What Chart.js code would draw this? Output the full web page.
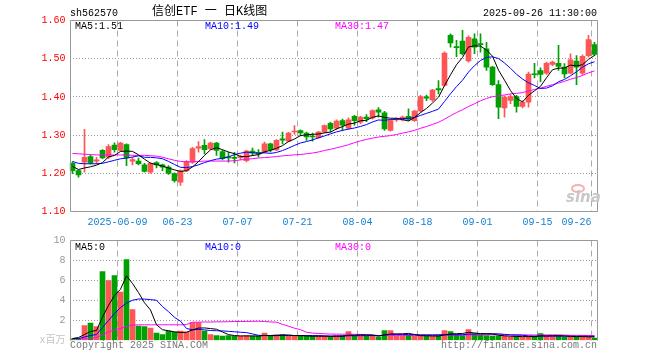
<!DOCTYPE html>
<html><head><meta charset="utf-8">
<script src="https://cdn.jsdelivr.net/npm/chart.js@4.4.1/dist/chart.umd.min.js"></script>
<style>
html,body{margin:0;padding:0;background:#fff;}
#wrap{position:relative;width:660px;height:360px;overflow:hidden;background:#fff;}
canvas{position:absolute;left:0;}
.t{position:absolute;font-family:"Liberation Mono","DejaVu Sans Mono",monospace;font-size:10px;line-height:10px;white-space:pre;color:#000;}
</style></head><body>
<div id="wrap">
<canvas id="price" width="660" height="230" style="top:0;width:660px;height:230px"></canvas>
<canvas id="vol" width="660" height="130" style="top:230px;width:660px;height:130px"></canvas>
<div style="position:absolute;left:571px;top:184px;width:10px;height:5px;border:2px solid rgba(235,110,110,0.55);border-radius:50%"></div>
<div class="t" style="left:566px;top:190px;font:italic bold 15px 'DejaVu Sans',sans-serif;line-height:15px;color:#c8c8c8">sina</div>
<div class="t" style="left:70px;top:9px">sh562570</div>
<div class="t" style="left:152px;top:6px;font-size:12px;line-height:12px;font-family:'Liberation Mono','Noto Sans CJK SC',monospace">信创ETF 一 日K线图</div>
<div class="t" style="right:63px;top:9px">2025-09-26 11:30:00</div>
<div class="t" id="lg5" style="left:75px;top:22px;color:#000"></div>
<div class="t" id="lg10" style="left:205px;top:22px;color:#0000ff"></div>
<div class="t" id="lg30" style="left:335px;top:22px;color:#ff00ff"></div>
<div class="t" style="left:75px;top:243px;color:#000">MA5:0</div>
<div class="t" style="left:205px;top:243px;color:#0000ff">MA10:0</div>
<div class="t" style="left:335px;top:243px;color:#ff00ff">MA30:0</div>
<div class="t" style="left:70px;top:341px;color:#777">Copyright 2025 SINA.COM</div>
<div class="t" style="right:63px;top:341px;color:#777">http://finance.sina.com.cn</div>
</div>
<script>
// ---- data (daily K, 88 trading days) ----
const tickIndex = [8, 18, 28, 38, 48, 58, 68, 78, 87];
const tickLabels = ['2025-06-09','06-23','07-07','07-21','08-04','08-18','09-01','09-15','09-26'];
const priceTicks = [1.10, 1.20, 1.30, 1.40, 1.50, 1.60];
const volTicks = [0, 2, 4, 6, 8, 10];

const opens = [
1.226,1.207,1.229,1.244,1.232,1.260,1.242,1.274,1.260,1.275,
1.232,1.232,1.222,1.203,1.228,1.222,1.216,1.199,1.177,1.206,
1.229,1.266,1.273,1.264,1.279,1.257,1.243,1.242,1.241,1.233,
1.258,1.255,1.255,1.277,1.261,1.290,1.284,1.308,1.312,1.305,
1.297,1.293,1.308,1.331,1.318,1.338,1.318,1.349,1.334,1.347,
1.345,1.366,1.358,1.312,1.340,1.340,1.349,1.338,1.363,1.400,
1.392,1.422,1.430,1.561,1.531,1.546,1.494,1.552,1.539,1.526,
1.478,1.432,1.371,1.391,1.401,1.375,1.386,1.460,1.469,1.462,
1.485,1.488,1.478,1.462,1.494,1.462,1.508,1.537];
const closes = [
1.207,1.196,1.242,1.227,1.235,1.240,1.270,1.262,1.279,1.240,
1.236,1.225,1.205,1.226,1.222,1.216,1.200,1.181,1.206,1.231,
1.265,1.270,1.262,1.279,1.260,1.238,1.240,1.239,1.243,1.258,
1.253,1.251,1.277,1.261,1.286,1.287,1.305,1.310,1.306,1.295,
1.295,1.308,1.325,1.316,1.337,1.326,1.340,1.338,1.347,1.343,
1.364,1.360,1.316,1.338,1.342,1.347,1.341,1.363,1.401,1.397,
1.418,1.418,1.515,1.541,1.529,1.513,1.556,1.530,1.537,1.478,
1.432,1.373,1.399,1.401,1.375,1.386,1.460,1.458,1.459,1.488,
1.491,1.480,1.460,1.497,1.478,1.506,1.550,1.511];
const highs = [
1.230,1.209,1.315,1.248,1.242,1.262,1.275,1.280,1.281,1.277,
1.242,1.240,1.226,1.228,1.231,1.224,1.220,1.201,1.209,1.233,
1.268,1.283,1.288,1.282,1.281,1.260,1.255,1.255,1.248,1.260,
1.266,1.262,1.282,1.279,1.288,1.308,1.307,1.325,1.314,1.308,
1.305,1.310,1.327,1.334,1.340,1.342,1.345,1.352,1.349,1.354,
1.366,1.372,1.362,1.340,1.345,1.350,1.369,1.365,1.404,1.405,
1.420,1.443,1.518,1.565,1.548,1.574,1.560,1.565,1.565,1.543,
1.480,1.443,1.403,1.406,1.404,1.390,1.465,1.488,1.476,1.491,
1.494,1.535,1.487,1.513,1.508,1.510,1.561,1.543];
const lows = [
1.199,1.190,1.203,1.224,1.225,1.238,1.238,1.255,1.258,1.220,
1.222,1.222,1.203,1.200,1.214,1.207,1.197,1.177,1.168,1.204,
1.226,1.255,1.251,1.262,1.247,1.235,1.229,1.227,1.236,1.230,
1.246,1.242,1.253,1.255,1.259,1.277,1.282,1.302,1.298,1.286,
1.284,1.291,1.306,1.308,1.314,1.312,1.315,1.326,1.330,1.335,
1.342,1.347,1.312,1.310,1.336,1.337,1.338,1.336,1.360,1.390,
1.388,1.408,1.428,1.530,1.505,1.510,1.491,1.513,1.517,1.469,
1.430,1.343,1.347,1.382,1.360,1.371,1.373,1.450,1.439,1.459,
1.482,1.469,1.450,1.460,1.432,1.458,1.504,1.508];
// volume, x 百万
const volumes = [
0.17,0.20,1.50,1.73,1.40,6.90,6.00,6.50,4.83,8.10,
3.10,1.43,1.40,1.23,0.73,0.60,0.93,0.83,0.93,0.83,
1.80,1.80,0.93,0.60,0.50,0.43,0.50,0.43,0.43,0.50,
0.43,0.43,0.73,0.43,0.57,0.60,0.43,0.43,0.43,0.43,
0.43,0.43,0.43,0.33,0.50,0.50,0.90,0.43,0.50,0.43,
0.50,0.33,1.00,1.00,0.50,0.50,0.57,0.43,0.43,0.43,
0.43,0.50,1.00,0.90,0.60,0.50,1.10,0.67,0.57,0.50,
0.43,0.43,0.43,0.33,0.43,0.33,0.43,0.43,0.70,0.43,
0.43,0.43,0.33,0.43,0.33,0.43,0.33,0.23];
const ma5Head  = [1.218, 1.210, 1.214, 1.217];
const ma10Head = [1.231, 1.226, 1.225, 1.225, 1.225, 1.226, 1.230, 1.234, 1.238];
const ma30Head = [1.252,1.251,1.250,1.249,1.248,1.248,1.248,1.248,1.248,1.248,
                  1.247,1.247,1.247,1.246,1.245,1.242,1.238,1.234,1.231,1.230,
                  1.230,1.231,1.232,1.232,1.232,1.232,1.232,1.233,1.235];
const volMa5Head  = [0.20, 0.30, 0.60, 0.90];
const volMa10Head = [0.20, 0.20, 0.35, 0.50, 0.60, 1.30, 2.00, 2.70, 3.30];
const volMa30Head = [0.17,0.17,0.17,0.18,0.30,0.60,0.85,1.05,1.20,1.40,
                     1.55,1.57,1.57,1.57,1.57,1.57,1.57,1.57,1.57,1.60,
                     1.83,1.83,1.85,1.85,1.87,1.87,1.88,1.90,1.90];

// ---- derived ----
const N = closes.length;
const idx = closes.map((_, i) => i);
const RED = '#ff5555', GREEN = '#00a000';
const colors = idx.map(i => closes[i] >= opens[i] ? RED : GREEN);
function movingAvg(src, n, head) {
  return src.map((_, i) => {
    if (i < n - 1) return head[i];
    let s = 0; for (let k = i - n + 1; k <= i; k++) s += src[k];
    return s / n;
  });
}
const ma5 = movingAvg(closes, 5, ma5Head), ma10 = movingAvg(closes, 10, ma10Head), ma30 = movingAvg(closes, 30, ma30Head);
const vma5 = movingAvg(volumes, 5, volMa5Head), vma10 = movingAvg(volumes, 10, volMa10Head), vma30 = movingAvg(volumes, 30, volMa30Head);
document.getElementById('lg5').textContent = 'MA5:' + ma5[N-1].toFixed(2);
document.getElementById('lg10').textContent = 'MA10:' + ma10[N-1].toFixed(2);
document.getElementById('lg30').textContent = 'MA30:' + ma30[N-1].toFixed(2);

const FONT = {family: "'Liberation Mono','Noto Sans CJK SC',monospace", size: 10};
const framePlugin = {
  id: 'frame',
  afterDatasetsDraw(chart, args, opts) {
    const {ctx, chartArea: a} = chart;
    const L = Math.round(a.left) + 0.5, R = Math.floor(a.right) + 0.5;
    const T = Math.floor(a.top) + 0.5, B = Math.floor(a.bottom) + 0.5;
    ctx.save();
    ctx.strokeStyle = '#999'; ctx.lineWidth = 1;
    ctx.beginPath();
    ctx.moveTo(L, opts.bottom ? B : a.bottom); ctx.lineTo(L, T); ctx.lineTo(R, T); ctx.lineTo(R, opts.bottom ? B : a.bottom);
    if (opts.bottom) { ctx.moveTo(L, B); ctx.lineTo(R, B); }
    ctx.stroke();
    ctx.restore();
  }
};
function lineDs(vals, color) {
  return {type: 'line', data: idx.map(i => ({x: i, y: vals[i]})), borderColor: color, borderWidth: 1,
          pointRadius: 0, tension: 0, fill: false, order: 0};
}
function xScale(showLabels, h) {
  return {
    type: 'linear', min: -0.5, max: N - 0.5, offset: false,
    afterBuildTicks: s => { s.ticks = tickIndex.map(i => ({value: i - 0.5})); },
    afterFit: s => { s.height = h; },
    ticks: {display: showLabels, autoSkip: false, maxRotation: 0, minRotation: 0, color: '#1580d0', font: FONT, padding: 5,
            callback: (v, k) => k === tickLabels.length - 1 ? tickLabels[k] + '     ' : tickLabels[k]},
    grid: {offset: false, color: '#aaa', drawTicks: false, lineWidth: 1},
    border: {display: false, dash: [6, 4]}
  };
}
const common = {
  responsive: false, animation: false, devicePixelRatio: 1, events: [],
  plugins: {legend: {display: false}, tooltip: {enabled: false}}
};

new Chart(document.getElementById('price'), {
  type: 'bar',
  data: {datasets: [
    {label: 'wick', data: idx.map(i => ({x: i, y: [lows[i], highs[i]]})), backgroundColor: colors,
     barThickness: 1, grouped: false, order: 3},
    {label: 'body', data: idx.map(i => ({x: i, y: [Math.min(opens[i], closes[i]), Math.max(opens[i], closes[i])]})),
     backgroundColor: colors, barThickness: 5, minBarLength: 1, grouped: false, order: 2},
    lineDs(ma5, '#000000'), lineDs(ma10, '#0000ff'), lineDs(ma30, '#ff00ff')
  ]},
  options: Object.assign({}, common, {
    layout: {padding: {left: 0, right: 62.5, top: 20.5, bottom: 0}},
    plugins: Object.assign({}, common.plugins, {frame: {bottom: true}}),
    scales: {
      x: xScale(true, 18.5),
      y: {
        type: 'linear', min: priceTicks[0], max: priceTicks[priceTicks.length - 1],
        afterBuildTicks: s => { s.ticks = priceTicks.map(v => ({value: v})); },
        afterFit: s => { s.width = 69.5; },
        ticks: {color: '#ff0000', font: FONT, padding: 4, callback: v => v.toFixed(2)},
        grid: {drawTicks: false, color: c => (c.index === 0 || c.index === priceTicks.length - 1) ? 'rgba(0,0,0,0)' : '#999'},
        border: {display: false, dash: [1, 2]}
      }
    }
  }),
  plugins: [framePlugin]
});

new Chart(document.getElementById('vol'), {
  type: 'bar',
  data: {datasets: [
    {label: 'volume', data: idx.map(i => ({x: i, y: volumes[i]})), backgroundColor: colors,
     barThickness: 5, grouped: false, order: 2},
    lineDs(vma5, '#000000'), lineDs(vma10, '#0000ff'), lineDs(vma30, '#ff00ff')
  ]},
  options: Object.assign({}, common, {
    layout: {padding: {left: 0, right: 62.5, top: 10.5, bottom: 0}},
    plugins: Object.assign({}, common.plugins, {frame: {bottom: false}}),
    scales: {
      x: xScale(false, 19.5),
      y: {
        type: 'linear', min: volTicks[0], max: volTicks[volTicks.length - 1],
        afterBuildTicks: s => { s.ticks = volTicks.map(v => ({value: v})); },
        afterFit: s => { s.width = 69.5; },
        ticks: {font: FONT, padding: 4, color: c => c.index === 0 ? '#c4c4c4' : '#999',
                callback: v => v === 0 ? 'x百万' : String(v)},
        grid: {drawTicks: false, color: c => (c.index === 0 || c.index === volTicks.length - 1) ? 'rgba(0,0,0,0)' : '#999'},
        border: {display: false, dash: [1, 2]}
      }
    }
  }),
  plugins: [framePlugin]
});
</script>
</body></html>
